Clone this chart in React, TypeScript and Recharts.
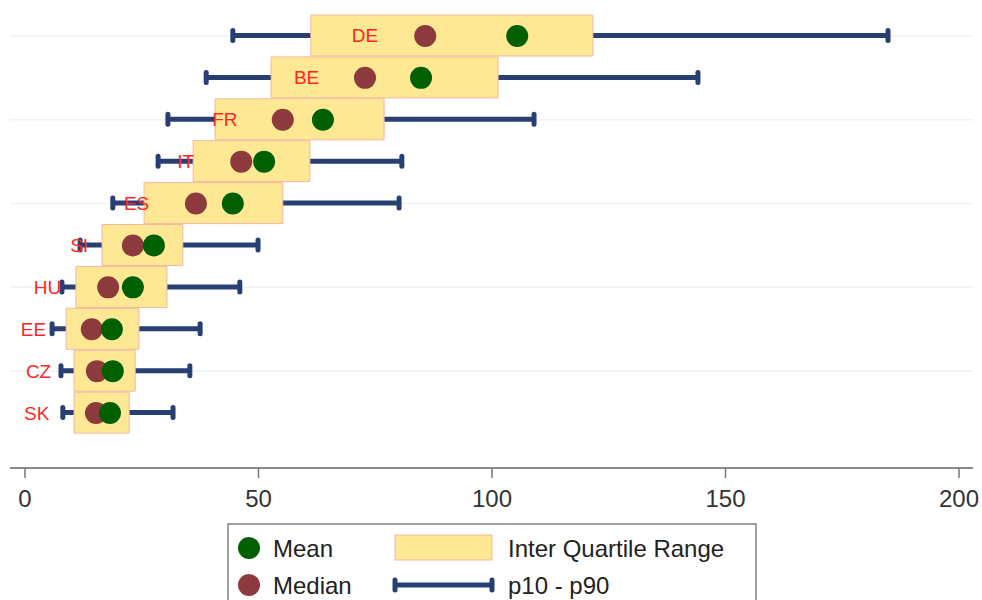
import React from 'react';
import { ComposedChart, Bar, Scatter, XAxis, YAxis, CartesianGrid } from 'recharts';

const countries = ['DE', 'BE', 'FR', 'IT', 'ES', 'SI', 'HU', 'EE', 'CZ', 'SK'];
const p10 = [44.5, 38.8, 30.6, 28.5, 18.8, 11.8, 7.9, 5.8, 7.7, 8.1];
const p25 = [61.2, 52.7, 40.7, 36.0, 25.5, 16.5, 10.9, 8.8, 10.5, 10.5];
const medians = [85.7, 72.8, 55.2, 46.3, 36.6, 23.1, 17.8, 14.3, 15.4, 15.2];
const means = [105.4, 84.8, 63.8, 51.2, 44.5, 27.6, 23.1, 18.6, 18.8, 18.2];
const p75 = [121.6, 101.3, 76.9, 61.0, 55.2, 33.8, 30.4, 24.4, 23.6, 22.3];
const p90 = [184.8, 144.1, 109.0, 80.7, 80.1, 49.9, 46.0, 37.5, 35.3, 31.7];
// where each country name sits on the x scale
const labelAt = [72.8, 60.3, 42.8, 34.4, 23.9, 11.6, 4.8, 1.8, 2.9, 2.5];
const xTicks = [0, 50, 100, 150, 200];
const gridRows = ['DE', 'FR', 'ES', 'HU', 'CZ'];

const FONT = "'Liberation Sans', Arial, sans-serif";
const NAVY = '#283f73';
const GREEN = '#006000';
const MAROON = '#8c3a3e';
const BOX_FILL = '#ffe893';
const BOX_EDGE = '#f3b7a2';
const Y_PAD_BOTTOM = 34;

const data = countries.map((name, i) => ({
  name,
  whisker: [p10[i], p90[i]],
  iqr: [p25[i], p75[i]],
  median: medians[i],
  mean: means[i],
  labelAt: labelAt[i],
}));

const Whisker = (props: any) => {
  const { x, y, width, height } = props;
  const cy = y + height / 2;
  return (
    <g>
      <line x1={x} x2={x + width} y1={cy} y2={cy} stroke={NAVY} strokeWidth={5} />
      <rect x={x - 2.5} y={cy - 7.5} width={5} height={15} rx={2.5} fill={NAVY} />
      <rect x={x + width - 2.5} y={cy - 7.5} width={5} height={15} rx={2.5} fill={NAVY} />
    </g>
  );
};

const dot = (color: string) => (props: any) => (
  <circle cx={props.cx} cy={props.cy} r={11} fill={color} />
);

const CountryLabel = (props: any) => (
  <text
    x={props.cx}
    y={props.cy}
    textAnchor="middle"
    dominantBaseline="central"
    fill="#ff2626"
    fontSize={19}
    fontFamily={FONT}
  >
    {props.payload.name}
  </text>
);

// faint lines through every second row (centre of each category band)
const rowLines = ({ offset }: any) => {
  if (!offset) return [];
  const band = (offset.height - Y_PAD_BOTTOM) / countries.length;
  return gridRows.map((r) => offset.top + (countries.indexOf(r) + 0.5) * band);
};

const Legend = () => (
  <svg width={530} height={80} style={{ position: 'absolute', left: 227, top: 523 }}>
    <rect x={1} y={1} width={528} height={90} fill="#fff" stroke="#808080" strokeWidth={1.5} />
    <circle cx={22} cy={25} r={11} fill={GREEN} />
    <text x={46} y={25} dominantBaseline="central" fontSize={24} fontFamily={FONT} fill="#222">Mean</text>
    <rect x={168} y={12} width={97} height={25} fill={BOX_FILL} stroke={BOX_EDGE} />
    <text x={281} y={25} dominantBaseline="central" fontSize={24} fontFamily={FONT} fill="#222">Inter Quartile Range</text>
    <circle cx={22} cy={62} r={11} fill={MAROON} />
    <text x={46} y={62} dominantBaseline="central" fontSize={24} fontFamily={FONT} fill="#222">Median</text>
    <line x1={168} x2={265} y1={62} y2={62} stroke={NAVY} strokeWidth={5} />
    <rect x={165.5} y={54.5} width={5} height={15} rx={2.5} fill={NAVY} />
    <rect x={262.5} y={54.5} width={5} height={15} rx={2.5} fill={NAVY} />
    <text x={281} y={62} dominantBaseline="central" fontSize={24} fontFamily={FONT} fill="#222">p10 - p90</text>
  </svg>
);

export default function App() {
  return (
    <div style={{ position: 'absolute', left: 0, top: 0, width: 982, height: 600, background: '#fff', overflow: 'hidden' }}>
      <ComposedChart
        width={982}
        height={520}
        data={data}
        layout="vertical"
        margin={{ top: 15, right: 9, left: 10, bottom: 0 }}
        barSize={41}
        barGap={-41}
        barCategoryGap={0}
      >
        <CartesianGrid
          vertical={false}
          stroke="#eef1f6"
          strokeWidth={1.5}
          horizontalCoordinatesGenerator={rowLines}
        />
        <XAxis
          type="number"
          domain={[0, 200]}
          ticks={xTicks}
          padding={{ left: 15, right: 14 }}
          height={52}
          tickSize={10}
          tickMargin={12}
          axisLine={{ stroke: '#8a8a8a', strokeWidth: 2 }}
          tickLine={{ stroke: '#777', strokeWidth: 1.5 }}
          tick={{ fontSize: 24, fill: '#333', fontFamily: FONT }}
        />
        <YAxis type="category" dataKey="name" hide padding={{ top: 0, bottom: Y_PAD_BOTTOM }} />
        <Bar dataKey="whisker" shape={Whisker} isAnimationActive={false} />
        <Bar dataKey="iqr" fill={BOX_FILL} stroke={BOX_EDGE} strokeWidth={1} isAnimationActive={false} />
        <Scatter dataKey="median" shape={dot(MAROON)} isAnimationActive={false} />
        <Scatter dataKey="mean" shape={dot(GREEN)} isAnimationActive={false} />
        <Scatter dataKey="labelAt" shape={CountryLabel} isAnimationActive={false} />
      </ComposedChart>
      <Legend />
    </div>
  );
}
